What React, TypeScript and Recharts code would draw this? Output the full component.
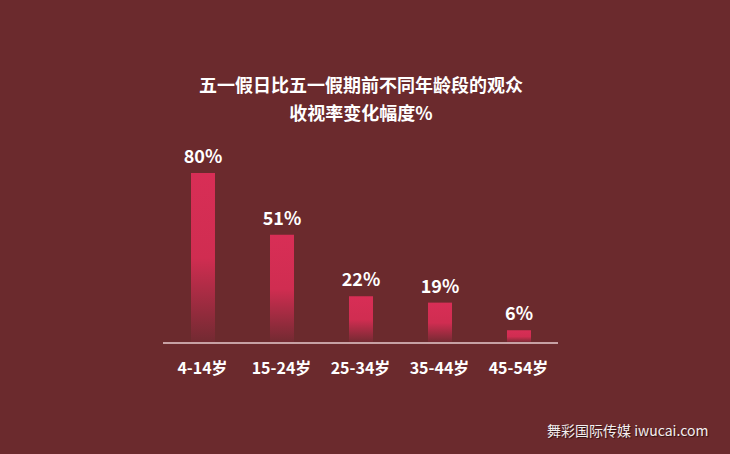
import { BarChart, Bar, XAxis, YAxis, LabelList, ReferenceLine } from "recharts";

const categories = ["4-14岁", "15-24岁", "25-34岁", "35-44岁", "45-54岁"];
const changes = [80, 51, 22, 19, 6];
const titleLines = ["五一假日比五一假期前不同年龄段的观众", "收视率变化幅度%"];

const data = categories.map((name, i) => ({ name, value: changes[i] }));

const BG = "#6b2a2d";
const FONT = '"Noto Sans CJK SC", "Noto Sans", sans-serif';

// category tick under the axis
const Tick = ({ x, y, payload }: any) => (
  <text
    x={x}
    y={y + 23}
    textAnchor="middle"
    fill="#ffffff"
    fontSize={16}
    fontWeight="bold"
    fontFamily={FONT}
  >
    {payload.value}
  </text>
);

export default function App() {
  return (
    <div
      style={{
        position: "absolute",
        left: 0,
        top: 0,
        width: 730,
        height: 454,
        background: BG,
        fontFamily: FONT,
      }}
    >
      {/* title */}
      <div
        style={{
          position: "absolute",
          left: 0,
          top: 70,
          width: 722,
          textAlign: "center",
          color: "#fff",
          fontWeight: "bold",
          fontSize: 18,
          lineHeight: "28px",
        }}
      >
        {titleLines.map((t) => (
          <div key={t}>{t}</div>
        ))}
      </div>

      <BarChart
        width={730}
        height={454}
        data={data}
        margin={{ top: 173, right: 172, bottom: 81, left: 163 }}
      >
        <defs>
          <linearGradient id="barFade" x1="0" y1="0" x2="0" y2="1">
            <stop offset="0%" stopColor="#d82e56" />
            <stop offset="50%" stopColor="#d02d51" />
            <stop offset="100%" stopColor="#712a31" />
          </linearGradient>
        </defs>
        <XAxis
          dataKey="name"
          height={30}
          axisLine={false}
          tickLine={false}
          tick={<Tick />}
          interval={0}
        />
        <YAxis hide width={0} domain={[0, 80]} />
        <ReferenceLine y={0} stroke="#c7a1a4" strokeWidth={2} ifOverflow="extendDomain" />
        <Bar dataKey="value" barSize={24} fill="url(#barFade)" isAnimationActive={false}>
          <LabelList
            dataKey="value"
            position="top"
            offset={10}
            formatter={(v: any) => `${v}%`}
            fill="#ffffff"
            fontSize={18}
            fontWeight="bold"
            fontFamily={FONT}
          />
        </Bar>
      </BarChart>

      {/* watermark */}
      <div
        style={{
          position: "absolute",
          left: 547,
          top: 420,
          color: "#f4eeee",
          fontSize: 14,
          fontFamily: '"Noto Sans CJK SC", sans-serif',
          textShadow: "1px 1px 1px rgba(0,0,0,0.6)",
        }}
      >
        舞彩国际传媒 iwucai.com
      </div>
    </div>
  );
}
